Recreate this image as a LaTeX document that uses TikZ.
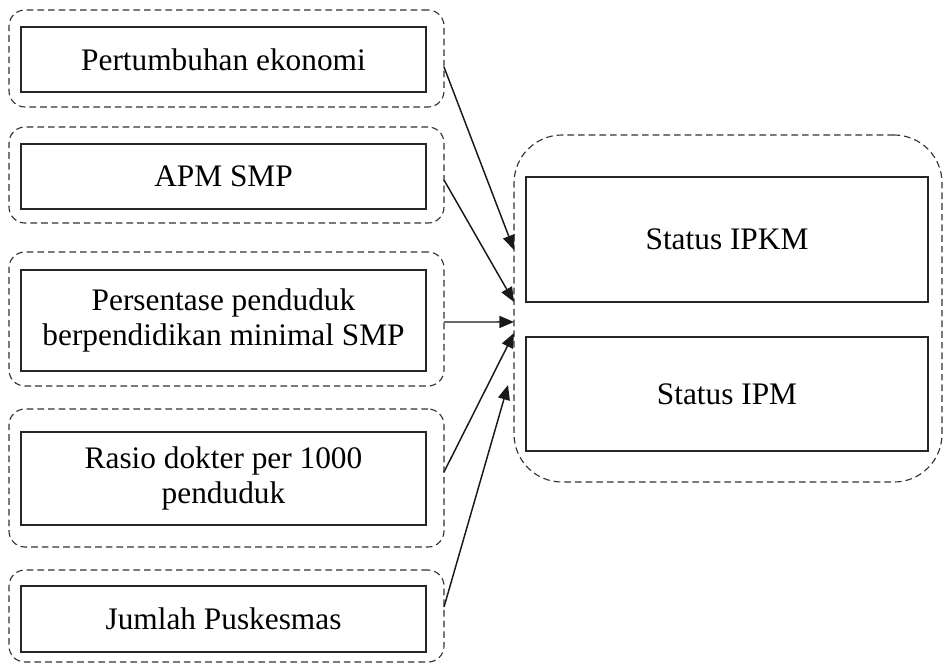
\documentclass[tikz,border=0pt]{standalone}
\usepackage{fontspec}
\setmainfont{Liberation Serif}
\usetikzlibrary{arrows.meta}
\begin{document}
\begin{tikzpicture}[x=0.75pt,y=-0.75pt,
  outerbox/.style={draw=black!80, line width=0.85pt, dash pattern=on 5pt off 3pt, rounded corners=12pt, inner sep=0pt, outer sep=0pt, minimum width=326.25pt},
  inbox/.style={draw=black!85, line width=1.2pt, inner sep=0pt, outer sep=0pt, minimum width=303.75pt, align=center, font=\fontsize{23.5}{26.5}\selectfont},
  rbox/.style={draw=black!85, line width=1.2pt, inner sep=0pt, outer sep=0pt, minimum width=301.5pt, align=center, font=\fontsize{23.5}{26.5}\selectfont},
  arr/.style={draw=black!90, line width=1.1pt, -{Triangle[length=11pt,width=9pt]}}]
\useasboundingbox (0,0) rectangle (945,665);

% left outer dashed boxes
\node[outerbox, minimum height=72.75pt] (o1) at (226.5,58.5) {};
\node[outerbox, minimum height=72pt] (o2) at (226.5,175) {};
\node[outerbox, minimum height=100.5pt] (o3) at (226.5,319) {};
\node[outerbox, minimum height=103.5pt] (o4) at (226.5,478) {};
\node[outerbox, minimum height=69pt] (o5) at (226.5,616) {};

% left inner boxes
\node[inbox, minimum height=48.75pt] (b1) at (223.5,59.5) {Pertumbuhan ekonomi};
\node[inbox, minimum height=48.75pt] (b2) at (223.5,176.5) {APM SMP};
\node[inbox, minimum height=75.75pt] (b3) at (223.5,320.5) {Persentase penduduk\\berpendidikan minimal SMP};
\node[inbox, minimum height=69.75pt] (b4) at (223.5,478.5) {Rasio dokter per 1000\\penduduk};
\node[inbox, minimum height=49.5pt] (b5) at (223.5,619) {Jumlah Puskesmas};

% right group
\node[outerbox, rounded corners=36pt, minimum width=321pt, minimum height=260.25pt] (R) at (728,308.5) {};
\node[rbox, minimum height=93.75pt] (r1) at (727,239.5) {Status IPKM};
\node[rbox, minimum height=85.5pt] (r2) at (727,394) {Status IPM};

% arrows
\draw[arr] ([yshift=-6.4pt]o1.east) -- ([yshift=43.9pt]R.west);
\draw[arr] ([yshift=-3.75pt]o2.east) -- ([yshift=4.9pt]R.west);
\draw[arr] ([yshift=-2.25pt]o3.east) -- ([yshift=-10.1pt]R.west);
\draw[arr] ([yshift=4.5pt]o4.east) -- ([yshift=-18.4pt]R.west);
\draw[arr] ([yshift=6.75pt]o5.east) -- ([xshift=-4.5pt,yshift=-57.4pt]R.west);
\end{tikzpicture}
\end{document}
